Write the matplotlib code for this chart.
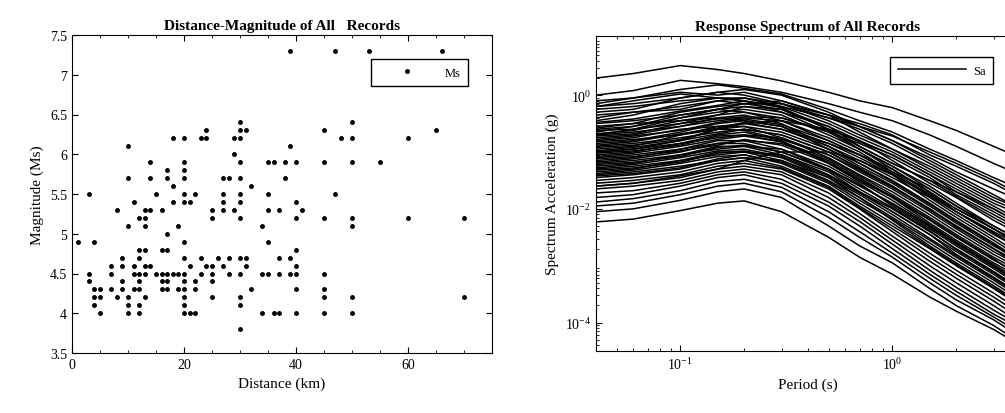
import matplotlib
matplotlib.use("Agg")
import matplotlib.pyplot as plt
from matplotlib.ticker import MultipleLocator, FixedLocator, LogLocator, NullFormatter
import numpy as np

plt.rcParams["font.family"] = ["Liberation Serif", "DejaVu Serif"]
plt.rcParams["mathtext.fontset"] = "stix"

# scatter records, grouped by magnitude row
ms_rows = [7.3, 6.4, 6.3, 6.2, 6.1, 6.0, 5.9, 5.8, 5.7, 5.6, 5.5, 5.4, 5.3, 5.2,
           5.1, 5.0, 4.9, 4.8, 4.7, 4.6, 4.5, 4.4, 4.3, 4.2, 4.1, 4.0, 3.8]
dist_rows = [
    [39, 47, 53, 66],
    [30, 50],
    [24, 30, 31, 45, 65],
    [18, 20, 23, 24, 29, 30, 48, 50, 60],
    [10, 39],
    [29],
    [14, 20, 30, 35, 36, 38, 40, 45, 50, 55],
    [17, 20],
    [10, 14, 17, 20, 27, 28, 30, 38],
    [18, 32],
    [3, 15, 20, 22, 27, 30, 35, 47],
    [11, 18, 20, 21, 27, 30, 40],
    [8, 13, 14, 16, 25, 27, 29, 35, 37, 41],
    [12, 13, 25, 30, 40, 45, 50, 60, 70],
    [10, 13, 19, 34, 50],
    [17],
    [1, 4, 20, 35],
    [12, 13, 16, 17, 40],
    [9, 12, 20, 23, 26, 28, 30, 31, 37, 39],
    [7, 9, 11, 13, 14, 21, 24, 25, 27, 31, 40],
    [3, 7, 11, 12, 13, 15, 16, 17, 18, 19, 20, 23, 25, 28, 30, 34, 35, 37, 39, 40, 45],
    [3, 9, 12, 16, 17, 20, 22, 25],
    [4, 5, 7, 9, 11, 12, 16, 17, 19, 20, 22, 32, 40, 45],
    [4, 5, 8, 10, 13, 20, 25, 30, 45, 50, 70],
    [4, 10, 12, 20, 30],
    [5, 10, 12, 20, 21, 22, 34, 36, 37, 40, 45, 50],
    [30],
]

# response spectra, log10(Sa) at each period
periods = [0.04, 0.06, 0.1, 0.15, 0.2, 0.3, 0.5, 0.7, 1.0, 1.5, 2.0, 3.0, 4.0]
sa_log = [
    [0.30, 0.38, 0.52, 0.45, 0.38, 0.25, 0.05, -0.10, -0.22, -0.45, -0.62, -0.90, -1.10],
    [0.00, 0.08, 0.26, 0.20, 0.15, 0.05, -0.15, -0.30, -0.45, -0.70, -0.90, -1.20, -1.40],
    [-0.10, -0.05, 0.10, 0.18, 0.12, 0.02, -0.25, -0.45, -0.65, -0.95, -1.15, -1.45, -1.65],
    [-0.20, -0.15, -0.05, 0.05, 0.10, 0.00, -0.30, -0.55, -0.80, -1.10, -1.35, -1.65, -1.85],
    [-0.25, -0.20, -0.10, -0.05, -0.05, -0.15, -0.40, -0.60, -0.85, -1.20, -1.45, -1.80, -2.00],
    [-0.35, -0.30, -0.20, -0.10, -0.05, -0.20, -0.50, -0.75, -1.00, -1.35, -1.60, -1.95, -2.20],
    [-0.45, -0.35, -0.15, -0.05, -0.10, -0.30, -0.65, -0.85, -1.10, -1.45, -1.75, -2.10, -2.35],
    [-0.50, -0.45, -0.35, -0.25, -0.20, -0.30, -0.55, -0.80, -1.15, -1.55, -1.80, -2.20, -2.45],
    [-0.60, -0.55, -0.40, -0.30, -0.25, -0.35, -0.70, -0.95, -1.25, -1.60, -1.90, -2.30, -2.55],
    [-0.65, -0.55, -0.35, -0.25, -0.30, -0.45, -0.80, -1.05, -1.30, -1.70, -2.00, -2.35, -2.60],
    [-0.70, -0.65, -0.55, -0.45, -0.40, -0.45, -0.75, -1.00, -1.35, -1.75, -2.05, -2.45, -2.70],
    [-0.75, -0.70, -0.55, -0.40, -0.35, -0.50, -0.90, -1.15, -1.45, -1.80, -2.10, -2.50, -2.80],
    [-0.80, -0.75, -0.60, -0.55, -0.50, -0.60, -0.85, -1.10, -1.40, -1.85, -2.15, -2.55, -2.85],
    [-0.85, -0.80, -0.65, -0.50, -0.45, -0.55, -0.95, -1.25, -1.55, -1.95, -2.25, -2.65, -2.90],
    [-0.90, -0.85, -0.75, -0.65, -0.60, -0.70, -1.00, -1.30, -1.60, -2.00, -2.30, -2.70, -2.95],
    [-0.95, -0.90, -0.70, -0.55, -0.55, -0.75, -1.10, -1.40, -1.70, -2.10, -2.40, -2.80, -3.05],
    [-1.00, -0.95, -0.85, -0.75, -0.70, -0.75, -1.05, -1.35, -1.65, -2.05, -2.35, -2.75, -3.00],
    [-1.05, -1.00, -0.85, -0.70, -0.65, -0.80, -1.20, -1.50, -1.80, -2.20, -2.50, -2.90, -3.15],
    [-1.10, -1.05, -0.95, -0.85, -0.80, -0.85, -1.15, -1.45, -1.80, -2.25, -2.55, -2.95, -3.20],
    [-1.15, -1.10, -0.95, -0.80, -0.80, -0.95, -1.30, -1.60, -1.90, -2.30, -2.60, -3.00, -3.30],
    [-1.20, -1.15, -1.05, -0.95, -0.90, -0.95, -1.25, -1.55, -1.95, -2.35, -2.65, -3.05, -3.35],
    [-1.25, -1.20, -1.05, -0.90, -0.90, -1.05, -1.40, -1.70, -2.00, -2.40, -2.70, -3.10, -3.40],
    [-1.30, -1.25, -1.15, -1.05, -1.00, -1.05, -1.35, -1.70, -2.05, -2.45, -2.80, -3.20, -3.50],
    [-1.35, -1.30, -1.15, -1.00, -1.00, -1.15, -1.50, -1.80, -2.15, -2.55, -2.85, -3.25, -3.55],
    [-1.40, -1.35, -1.25, -1.15, -1.10, -1.15, -1.45, -1.80, -2.20, -2.65, -2.95, -3.35, -3.65],
    [-1.45, -1.40, -1.30, -1.15, -1.10, -1.25, -1.60, -1.95, -2.30, -2.70, -3.00, -3.40, -3.70],
    [-1.55, -1.50, -1.40, -1.25, -1.20, -1.30, -1.65, -2.00, -2.40, -2.85, -3.15, -3.55, -3.85],
    [-1.65, -1.60, -1.50, -1.35, -1.30, -1.40, -1.80, -2.15, -2.55, -3.00, -3.30, -3.70, -4.00],
    [-1.80, -1.75, -1.60, -1.45, -1.40, -1.55, -1.95, -2.30, -2.70, -3.15, -3.45, -3.85, -4.10],
    [-1.95, -1.90, -1.75, -1.60, -1.55, -1.70, -2.15, -2.50, -2.85, -3.30, -3.60, -3.95, -4.25],
    [-2.05, -2.00, -1.85, -1.70, -1.65, -1.80, -2.30, -2.65, -2.95, -3.40, -3.70, -4.05, -4.35],
    [-2.23, -2.18, -2.03, -1.90, -1.86, -2.05, -2.50, -2.85, -3.15, -3.55, -3.80, -4.12, -4.40],
    [-1.60, -1.55, -1.45, -1.30, -1.15, -1.00, -1.00, -1.15, -1.40, -1.75, -2.00, -2.35, -2.60],
    [-0.55, -0.50, -0.30, -0.20, -0.15, -0.10, -0.35, -0.65, -0.95, -1.30, -1.55, -1.90, -2.10],
    [-0.15, -0.05, 0.05, 0.00, 0.05, -0.10, -0.35, -0.50, -0.70, -1.05, -1.25, -1.55, -1.80],
    [-0.30, -0.25, -0.05, 0.05, 0.00, -0.15, -0.45, -0.70, -0.95, -1.25, -1.50, -1.85, -2.05],
    [-0.40, -0.30, -0.25, -0.10, -0.15, -0.25, -0.55, -0.90, -1.20, -1.50, -1.70, -2.05, -2.30],
    [-0.48, -0.42, -0.28, -0.18, -0.10, -0.22, -0.60, -0.82, -1.05, -1.40, -1.70, -2.00, -2.25],
    [-0.58, -0.50, -0.45, -0.35, -0.30, -0.40, -0.62, -0.90, -1.20, -1.50, -1.78, -2.15, -2.40],
    [-0.62, -0.60, -0.50, -0.35, -0.20, -0.25, -0.60, -0.95, -1.30, -1.72, -2.05, -2.40, -2.65],
    [-0.68, -0.62, -0.45, -0.40, -0.45, -0.55, -0.85, -1.05, -1.35, -1.65, -1.95, -2.30, -2.55],
    [-0.72, -0.68, -0.50, -0.42, -0.38, -0.40, -0.65, -0.95, -1.25, -1.65, -1.95, -2.35, -2.65],
    [-0.78, -0.72, -0.62, -0.48, -0.42, -0.52, -0.80, -1.05, -1.38, -1.78, -2.05, -2.42, -2.72],
    [-0.82, -0.78, -0.70, -0.60, -0.55, -0.65, -0.95, -1.20, -1.50, -1.90, -2.20, -2.60, -2.90],
    [-0.88, -0.82, -0.68, -0.58, -0.48, -0.60, -0.90, -1.20, -1.52, -1.92, -2.22, -2.62, -2.95],
    [-0.92, -0.88, -0.78, -0.60, -0.62, -0.78, -1.05, -1.32, -1.62, -2.00, -2.32, -2.70, -3.00],
    [-0.98, -0.92, -0.80, -0.68, -0.60, -0.70, -1.00, -1.28, -1.60, -2.02, -2.30, -2.70, -2.98],
    [-1.02, -0.98, -0.88, -0.72, -0.70, -0.82, -1.12, -1.42, -1.75, -2.15, -2.45, -2.85, -3.10],
    [-1.08, -1.02, -0.90, -0.78, -0.72, -0.82, -1.18, -1.48, -1.78, -2.18, -2.48, -2.88, -3.18],
    [-1.12, -1.08, -0.98, -0.88, -0.78, -0.88, -1.20, -1.52, -1.85, -2.28, -2.58, -2.98, -3.25],
    [-1.18, -1.12, -1.00, -0.85, -0.85, -1.00, -1.30, -1.58, -1.92, -2.32, -2.62, -3.02, -3.32],
    [-1.22, -1.18, -1.08, -0.92, -0.88, -1.00, -1.32, -1.65, -1.98, -2.38, -2.72, -3.12, -3.42],
    [-1.28, -1.22, -1.10, -0.98, -0.95, -1.08, -1.42, -1.72, -2.05, -2.45, -2.75, -3.15, -3.45],
    [-1.32, -1.28, -1.18, -1.02, -0.98, -1.10, -1.45, -1.75, -2.10, -2.52, -2.82, -3.22, -3.52],
    [-1.38, -1.32, -1.20, -1.08, -1.05, -1.18, -1.52, -1.85, -2.18, -2.60, -2.90, -3.30, -3.60],
    [-1.42, -1.38, -1.28, -1.12, -1.05, -1.20, -1.55, -1.90, -2.25, -2.68, -2.98, -3.38, -3.68],
    [-1.50, -1.45, -1.35, -1.20, -1.15, -1.28, -1.62, -1.98, -2.35, -2.78, -3.08, -3.48, -3.78],
    [-1.60, -1.55, -1.42, -1.30, -1.25, -1.35, -1.72, -2.08, -2.48, -2.92, -3.22, -3.62, -3.92],
    [-1.72, -1.68, -1.55, -1.40, -1.35, -1.48, -1.88, -2.22, -2.62, -3.08, -3.38, -3.78, -4.05],
    [-1.88, -1.82, -1.68, -1.52, -1.48, -1.62, -2.05, -2.40, -2.78, -3.22, -3.52, -3.90, -4.18],
    [-0.20, -0.10, 0.02, -0.05, -0.10, -0.20, -0.40, -0.55, -0.72, -1.00, -1.20, -1.50, -1.75],
    [-1.00, -0.95, -0.80, -0.60, -0.50, -0.45, -0.60, -0.80, -1.05, -1.40, -1.65, -2.00, -2.25],
    [-0.70, -0.60, -0.40, -0.25, -0.15, -0.15, -0.35, -0.55, -0.80, -1.15, -1.40, -1.75, -2.00],
]

fig = plt.figure(figsize=(10.05, 4.14), dpi=100)
ax1 = fig.add_axes([72 / 1005, 60 / 414, 420 / 1005, 318 / 414])
ax2 = fig.add_axes([596 / 1005, 62 / 414, 424 / 1005, 315 / 414])

# left: distance vs magnitude
dist = [d for row in dist_rows for d in row]
ms = [m for m, row in zip(ms_rows, dist_rows) for _ in row]
ax1.plot(dist, ms, ".", color="black", markersize=5, label="Ms")
ax1.set_xlim(0, 75)
ax1.set_ylim(3.5, 7.5)
ax1.xaxis.set_major_locator(MultipleLocator(20))
ax1.xaxis.set_minor_locator(MultipleLocator(5))
ax1.yaxis.set_major_locator(MultipleLocator(0.5))
ax1.set_yticklabels([f"{v:g}" for v in ax1.get_yticks()])
ax1.set_xlabel("Distance (km)", fontsize=11)
ax1.set_ylabel("Magnitude (Ms)", fontsize=11)
ax1.set_title("Distance-Magnitude of All   Records", fontsize=11, fontweight="bold", pad=4)
ax1.legend(loc="upper right", bbox_to_anchor=(0.943, 0.9245), borderaxespad=0,
           fancybox=False, edgecolor="black", framealpha=1, fontsize=9,
           handlelength=4.5, handletextpad=0.8, borderpad=0.6)

# right: response spectra
for i, curve in enumerate(sa_log):
    ax2.plot(periods, 10 ** np.array(curve), color="black", linewidth=1.1,
             label="Sa" if i == 0 else None)
ax2.set_xscale("log")
ax2.set_yscale("log")
ax2.set_xlim(0.04, 4)
ax2.set_ylim(10 ** -4.5, 10 ** 1.04)
ax2.yaxis.set_major_locator(FixedLocator([1e-4, 1e-2, 1e0]))
ax2.yaxis.set_minor_locator(LogLocator(base=10, subs=np.arange(2, 10), numticks=20))
ax2.yaxis.set_minor_formatter(NullFormatter())
ax2.xaxis.set_minor_formatter(NullFormatter())
ax2.set_xlabel("Period (s)", fontsize=11)
ax2.set_ylabel("Spectrum Acceleration (g)", fontsize=11)
ax2.set_title("Response Spectrum of All Records", fontsize=11, fontweight="bold", pad=4)
ax2.legend(loc="upper right", bbox_to_anchor=(0.936, 0.933), borderaxespad=0,
           fancybox=False, edgecolor="black", framealpha=1, fontsize=9,
           handlelength=5.5, handletextpad=0.5, borderpad=0.6)

for ax in (ax1, ax2):
    ax.tick_params(which="both", direction="in", top=True, right=True, labelsize=10)
    ax.tick_params(which="major", length=4)
    ax.tick_params(which="minor", length=2)
    for s in ax.spines.values():
        s.set_linewidth(0.8)

fig.savefig("out.png", dpi=100)
